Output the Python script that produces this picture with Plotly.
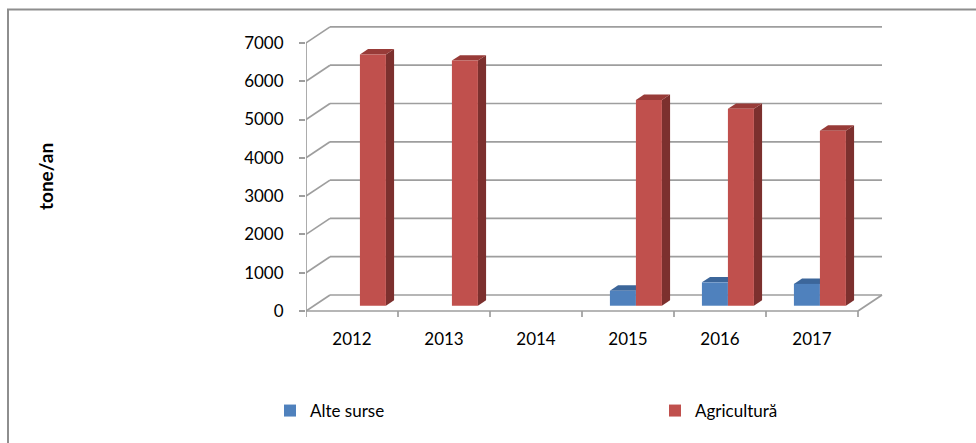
import plotly.graph_objects as go

# ---- data -------------------------------------------------------------
years = ["2012", "2013", "2014", "2015", "2016", "2017"]
alte_surse = [None, None, None, 390, 610, 570]
agricultura = [6560, 6400, None, 5370, 5140, 4570]
y_ticks = [0, 1000, 2000, 3000, 4000, 5000, 6000, 7000]

# ---- page / plot-area geometry (pixels) ---------------------------------
W, H = 976, 443
L, R, T, B = 306, 890, 20, 325          # plot-area edges
FRONT_ZERO = 311                         # pixel row of value 0 on the front edge
PX_CAT = 92.0                            # pixels per category
PX_VAL = 0.0383                          # pixels per tonne

# oblique projection: full depth of the floor, in data units
DX = 24 / PX_CAT
DY = 16 / PX_VAL
BAR_PLANE = 0.33                         # depth at which the bar fronts stand
BAR_DEPTH = 0.34                         # depth of each bar
BAR_W = 26 / PX_CAT

x_lo = -0.5
x_hi = x_lo + (R - L) / PX_CAT
y_lo = -(B - FRONT_ZERO) / PX_VAL
y_hi = (FRONT_ZERO - T) / PX_VAL

GRID = "#9E9E9E"
FONT = "Lato"

series = [
    ("Alte surse", alte_surse, -1, "#4F81BD", "#2F507A", "#3C669A", "legend", 270),
    ("Agricultură", agricultura, 0, "#C0504D", "#7C302E", "#983B38", "legend2", 655),
]

n = len(years)
left_edge, right_edge = x_lo, x_lo + n

shapes = []


def seg(x0, y0, x1, y1, color=GRID, width=1.7):
    shapes.append(dict(type="line", xref="x", yref="y", x0=x0, y0=y0, x1=x1, y1=y1,
                       line=dict(color=color, width=width), layer="below"))


def poly(pts, fill):
    path = "M " + " L ".join(f"{px},{py}" for px, py in pts) + " Z"
    shapes.append(dict(type="path", xref="x", yref="y", path=path,
                       fillcolor=fill, line=dict(width=0), layer="below"))


# side wall diagonals and back-wall gridlines
for v in y_ticks:
    seg(left_edge, v, left_edge + DX, v + DY)
    seg(left_edge + DX, v + DY, right_edge + DX, v + DY)

# front vertical axis and floor edges
seg(left_edge, 0, left_edge, y_ticks[-1])
seg(left_edge, 0, right_edge, 0)
seg(right_edge, 0, right_edge + DX, DY)

# category boundary ticks below the floor
tick_len = 6 / PX_VAL
for k in range(n + 1):
    seg(left_edge + k, 0, left_edge + k, -tick_len)

# page-pixel helpers for paper-referenced items
pw, ph = R - L, B - T


def px_x(p):
    return (p - L) / pw


def px_y(p):
    return (B - p) / ph


# side and top faces of each column; front faces are the bar traces
bdx, bdy = BAR_PLANE * DX, BAR_PLANE * DY
sdx, sdy = BAR_DEPTH * DX, BAR_DEPTH * DY
bar_traces = []
legends = {}
for name, vals, slot, front, side, top, leg, leg_x in series:
    xs, ys = [], []
    for i, v in enumerate(vals):
        if v is None:
            continue
        xl = i + bdx + slot * BAR_W
        xr = xl + BAR_W
        y0, y1 = bdy, bdy + v
        # side face is hidden where the neighbouring red column stands
        hidden = slot == -1 and agricultura[i] is not None
        if not hidden:
            poly([(xr, y0), (xr + sdx, y0 + sdy), (xr + sdx, y1 + sdy), (xr, y1)], side)
        poly([(xl, y1), (xr, y1), (xr + sdx, y1 + sdy), (xl + sdx, y1 + sdy)], top)
        xs.append(xl + BAR_W / 2)
        ys.append(v)
    bar_traces.append(go.Bar(
        name=name, x=xs, y=ys, base=bdy, width=BAR_W, legend=leg, showlegend=True,
        marker=dict(color=front, line=dict(width=0)),
        hoverinfo="skip",
    ))
    legends[leg] = dict(orientation="h", x=px_x(leg_x), y=px_y(411), visible=True,
                        xanchor="left", yanchor="middle", font=dict(size=17),
                        itemwidth=30, bgcolor="rgba(0,0,0,0)")

fig = go.Figure(bar_traces)

# chart frame (left and top edges)
frame = "#8E8E8E"
shapes.append(dict(type="line", xref="paper", yref="paper",
                   x0=px_x(8), y0=px_y(9.5), x1=px_x(8), y1=px_y(H + 2),
                   line=dict(color=frame, width=2)))
shapes.append(dict(type="line", xref="paper", yref="paper",
                   x0=px_x(7), y0=px_y(9.5), x1=px_x(W + 2), y1=px_y(9.5),
                   line=dict(color=frame, width=2)))

fig.update_layout(
    width=W, height=H,
    margin=dict(l=L, r=W - R, t=T, b=H - B, pad=0),
    paper_bgcolor="white", plot_bgcolor="white",
    barmode="overlay",
    showlegend=True,
    shapes=shapes,
    font=dict(family=FONT, color="black"),
    xaxis=dict(range=[x_lo, x_hi], tickvals=list(range(n)), ticktext=years,
               showgrid=False, zeroline=False, showline=False, ticks="",
               tickfont=dict(size=17), ticklabelstandoff=2, fixedrange=True),
    yaxis=dict(range=[y_lo, y_hi], tickvals=y_ticks, showgrid=False, zeroline=False,
               showline=False, ticks="outside", ticklen=6, tickwidth=1.7, tickcolor=GRID,
               tickfont=dict(size=17), ticklabelstandoff=12, fixedrange=True),
    annotations=[dict(text="<b>tone/an</b>", textangle=-90, xref="paper", yref="paper",
                      x=px_x(45), y=px_y(177), xanchor="center", yanchor="middle",
                      showarrow=False, font=dict(size=19, family=FONT))],
    **legends,
)

fig.write_html("out.html")
